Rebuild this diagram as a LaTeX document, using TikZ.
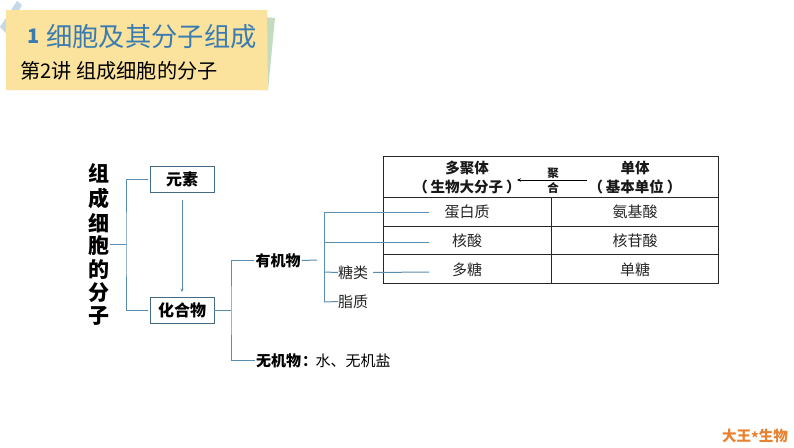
\documentclass[tikz,border=0pt]{standalone}
\usepackage{fontspec}
\setmainfont{Noto Sans CJK SC}
\usetikzlibrary{arrows.meta}
\definecolor{note}{HTML}{FBE29D}
\definecolor{noteg}{HTML}{C5DBBE}
\definecolor{tape}{HTML}{C6D7E6}
\definecolor{titleb}{HTML}{3A7CB0}
\definecolor{conn}{HTML}{5A8DB2}
\definecolor{logo}{HTML}{E9812F}
\tikzset{
 lbl/.style={inner sep=0pt,font=\fontsize{15}{15}\selectfont,text=black!85},
 bl/.style={inner sep=0pt,font=\fontsize{15}{15}\selectfont\bfseries,text=black},
 hd/.style={inner sep=0pt,font=\fontsize{14.5}{14.5}\selectfont\bfseries,text=black!90},
 tiny/.style={inner sep=0pt,font=\fontsize{11.5}{11.5}\selectfont\bfseries,text=black!90},
 vchar/.style={inner sep=0pt,font=\fontsize{21}{21}\selectfont\bfseries,align=center,text=black},
 boxed/.style={draw=conn!75!black,line width=0.9pt,minimum width=64pt,minimum height=26pt,inner sep=0pt,font=\fontsize{16}{16}\selectfont\bfseries},
 link/.style={draw=conn,line width=1pt},
 thinlink/.style={draw=conn,line width=0.8pt},
 grid/.style={draw=black!85,line width=0.8pt}
}
\begin{document}
\begin{tikzpicture}[x=1pt,y=-1pt]
\useasboundingbox[fill=white] (0,0) rectangle (794,447);
% title note
\fill[tape] (0,27) -- (17,1) -- (22,5) -- (6,33) -- cycle;
\fill[noteg] (262,17) -- (275,18) -- (268,90) -- (262,90) -- cycle;
\fill[note] (6,10) -- (267,10) -- (268,90) -- (6,90) -- cycle;
\node[anchor=west,inner sep=0pt,text=titleb,font=\fontsize{20}{20}\selectfont\bfseries] (num) at (27,36.5) {1};
\node[anchor=west,inner sep=0pt,text=titleb,font=\fontsize{26.3}{26.3}\selectfont] (title) at (46,37) {细胞及其分子组成};
\node[anchor=west,inner sep=0pt,text=black,font=\fontsize{20.2}{20.2}\selectfont] (sub) at (20,71) {第2讲 组成细胞的分子};
% left column
\node[vchar] (c1) at (99,173) {组};
\node[vchar] (c2) at (99,198) {成};
\node[vchar] (c3) at (99,223) {细};
\node[vchar] (c4) at (99,246) {胞};
\node[vchar] (c5) at (99,270) {的};
\node[vchar] (c6) at (99,293) {分};
\node[vchar] (c7) at (99,316) {子};
\node[boxed] (yuansu) at (182,179) {元素};
\node[boxed] (huahe) at (182,310.5) {化合物};
\node[bl] (youji) at (278,260.5) {有机物};
\node[anchor=west,inner sep=0pt] (wuji) at (256,360.5) {\fontsize{15}{15}\selectfont\bfseries 无机物\kern1pt：\kern-1.5pt\mdseries 水、无机盐};
\node[lbl] (tang) at (353,272.5) {糖类};
\node[lbl] (zhi) at (353,301.5) {脂质};
% table
\coordinate (tl) at (383.5,156.5);
\coordinate (br) at (718.5,283);
\draw[grid] (tl) rectangle (br);
\draw[grid] (383.5,197.5) -- (718.5,197.5);
\draw[grid] (383.5,226) -- (718.5,226);
\draw[grid] (383.5,254.5) -- (718.5,254.5);
\draw[grid] (551.5,197.5) -- (551.5,283);
\node[hd] (h1) at (467,168) {多聚体};
\node[hd] (h2) at (467,187) {（\kern3pt 生物大分子\kern3pt）};
\node[hd] (h3) at (635,168) {单体};
\node[hd] (h4) at (635,187) {（\kern3pt 基本单位\kern3pt）};
\node[tiny] (ju) at (553,173) {聚};
\node[tiny] (he) at (553,188) {合};
\coordinate (as) at (587,180);
\coordinate (ae) at (517,180);
\draw[black,line width=0.8pt,-{Stealth[length=4pt,width=3.5pt]}] (as) -- (ae);
\node[lbl] (t11) at (467,212) {蛋白质};
\node[lbl] (t12) at (635,212) {氨基酸};
\node[lbl] (t21) at (467,241) {核酸};
\node[lbl] (t22) at (635,241) {核苷酸};
\node[lbl] (t31) at (467,270) {多糖};
\node[lbl] (t32) at (635,270) {单糖};
% connectors
\coordinate (j1) at (126,244.5);
\coordinate (j2) at (231,310.5);
\draw[link] (109.5,244.5) -- (j1);
\draw[link] (148,179) -| (j1) |- (148,310.5);
\draw[thinlink,-{Stealth[length=3.5pt,width=3pt]}] ([yshift=-8pt]yuansu.south) -- ([yshift=5pt]huahe.north);
\draw[link] (huahe.east) -- (j2);
\draw[link] ([xshift=-1pt]youji.west) -| (j2) |- ([xshift=-1pt]wuji.west);
\draw[link] ([xshift=1pt]youji.east) -- (317,260);
\coordinate (b1) at (324,212);
\coordinate (b2) at (324,242);
\coordinate (b3) at (324,272);
\coordinate (b4) at (324,302);
\draw[link] (b1) -- (b4);
\draw[link] (b1) -- (429,212);
\draw[link] (b2) -- (429,242);
\draw[link] (b3) -- (tang.west);
\draw[link] (b4) -- (zhi.west);
\draw[link] ([xshift=5pt]tang.east) -- (429,272);
\node[anchor=east,inner sep=0pt,text=logo,font=\fontsize{14.5}{14.5}\selectfont\bfseries] (brand) at (788,436) {大王\raisebox{-2pt}{*}生物};
\end{tikzpicture}
\end{document}
